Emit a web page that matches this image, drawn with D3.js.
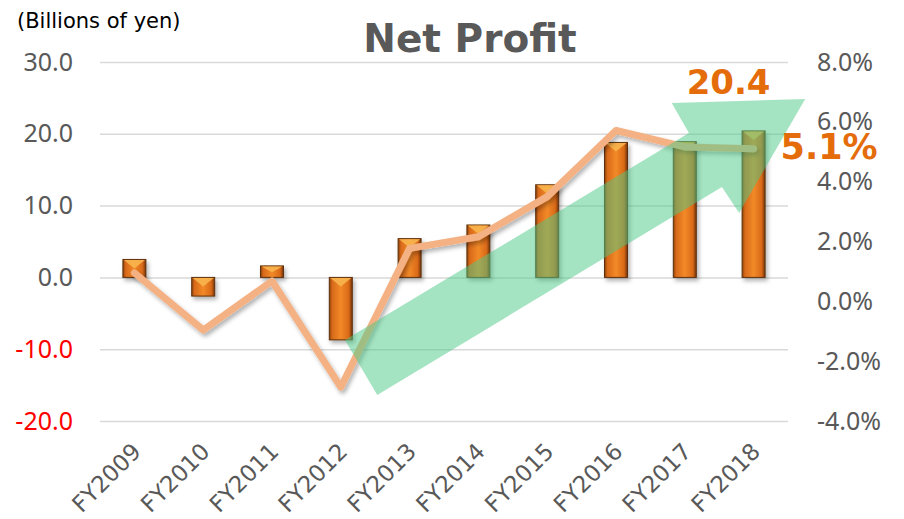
<!DOCTYPE html>
<html>
<head>
<meta charset="utf-8">
<script src="https://cdn.jsdelivr.net/npm/d3@7"></script>
<style>
    body { margin: 0; background: #fff; }
</style>
</head>
<body>
<div id="wrapper"></div>
<script>
const years = ["FY2009", "FY2010", "FY2011", "FY2012", "FY2013", "FY2014", "FY2015", "FY2016", "FY2017", "FY2018"];
const netProfit = [2.5, -2.6, 1.6, -8.7, 5.4, 7.3, 12.9, 18.8, 18.9, 20.4];   // billions of yen
const profitMargin = [0.95, -0.96, 0.68, -2.87, 1.77, 2.16, 3.5, 5.71, 5.16, 5.1]; // %
const profitTicks = [-20, -10, 0, 10, 20, 30];
const marginTicks = [-4, -2, 0, 2, 4, 6, 8];
// trend arrow outline: category position / billions of yen
const arrowPos = [3.56, 8.56, 8.31, 10.25, 9.29, 9.04, 4.03];
const arrowVal = [-8.72, 20.11, 24.29, 24.85, 8.97, 12.59, -16.38];

// plain hyphen instead of d3's unicode minus
const fmt = d => d3.format(".1f")(d).replace("\u2212", "-");

function buildChart() {
    const dimension = {
        width: 904,
        height: 519,
        margin: { top: 62, left: 100, right: 116, bottom: 98 }
    };
    dimension.boundedWidth = dimension.width - dimension.margin.left - dimension.margin.right;
    dimension.boundedHeight = dimension.height - dimension.margin.top - dimension.margin.bottom;

    const svg = d3.select("#wrapper").append("svg")
        .attr("width", dimension.width)
        .attr("height", dimension.height);

    const defs = svg.append("defs");
    const grad = defs.append("linearGradient").attr("id", "barGrad")
        .attr("x1", 0).attr("x2", 1).attr("y1", 0).attr("y2", 0);
    [[0, "#8a4209"], [0.12, "#d8691a"], [0.5, "#f28a28"], [0.85, "#d96918"], [1, "#733508"]]
        .forEach(s => grad.append("stop").attr("offset", s[0]).attr("stop-color", s[1]));

    const shadow = defs.append("filter").attr("id", "shadow")
        .attr("x", "-20%").attr("y", "-20%").attr("width", "140%").attr("height", "140%");
    shadow.append("feDropShadow").attr("dx", 2).attr("dy", 3).attr("stdDeviation", 2)
        .attr("flood-color", "#000").attr("flood-opacity", 0.3);

    const bounded = svg.append("g")
        .attr("transform", `translate(${dimension.margin.left},${dimension.margin.top})`);

    const xScaler = d3.scaleBand()
        .domain(years)
        .range([0, dimension.boundedWidth])
        .paddingInner(0.666)
        .paddingOuter(0.333);
    const xLin = d3.scaleLinear().domain([0, years.length]).range([0, dimension.boundedWidth]);
    const yLeft = d3.scaleLinear().domain([-20, 30]).range([dimension.boundedHeight, 0]);
    const yRight = d3.scaleLinear().domain([-4, 8]).range([dimension.boundedHeight, 0]);

    // gridlines
    const grid = bounded.append("g")
        .call(d3.axisLeft(yLeft).tickValues(profitTicks).tickSize(-dimension.boundedWidth).tickFormat(""));
    grid.select(".domain").remove();
    grid.selectAll("line").attr("stroke", "#d9d9d9").attr("stroke-width", 1.5);

    // left axis labels
    const leftAxis = bounded.append("g")
        .call(d3.axisLeft(yLeft).tickValues(profitTicks).tickSize(0).tickPadding(27).tickFormat(fmt));
    leftAxis.select(".domain").remove();
    leftAxis.selectAll("text")
        .attr("font-family", "Noto Sans").attr("font-size", 25)
        .attr("fill", d => d < 0 ? "#ff0000" : "#595959");

    // right axis labels
    const rightAxis = bounded.append("g")
        .attr("transform", `translate(${dimension.boundedWidth},0)`)
        .call(d3.axisRight(yRight).tickValues(marginTicks).tickSize(0).tickPadding(29).tickFormat(d => fmt(d) + "%"));
    rightAxis.select(".domain").remove();
    rightAxis.selectAll("text")
        .attr("font-family", "Noto Sans").attr("font-size", 25).attr("fill", "#595959");

    // category labels
    const xAxis = bounded.append("g")
        .attr("transform", `translate(0,${dimension.boundedHeight})`)
        .call(d3.axisBottom(xScaler).tickSize(0));
    xAxis.select(".domain").remove();
    xAxis.selectAll("text")
        .attr("font-family", "DejaVu Sans").attr("font-size", 23).attr("fill", "#595959")
        .attr("text-anchor", "end")
        .attr("y", 0).attr("dy", 0)
        .attr("transform", "translate(8,32) rotate(-45)");

    // bars
    const bw = xScaler.bandwidth();
    const bars = bounded.append("g").attr("filter", "url(#shadow)");
    bars.selectAll("rect")
        .data(netProfit)
        .join("rect")
        .attr("x", (d, i) => xScaler(years[i]))
        .attr("y", d => yLeft(Math.max(0, d)))
        .attr("width", bw)
        .attr("height", d => Math.abs(yLeft(d) - yLeft(0)))
        .attr("fill", "url(#barGrad)")
        .attr("stroke", "#5e300a")
        .attr("stroke-width", 1);
    bars.selectAll("polygon")
        .data(netProfit)
        .join("polygon")
        .attr("points", (d, i) => {
            const x0 = xScaler(years[i]);
            const top = yLeft(Math.max(0, d));
            const depth = Math.min(9, Math.abs(yLeft(d) - yLeft(0)) * 0.55);
            return [[x0 + 1, top + 0.5], [x0 + bw - 1, top + 0.5], [x0 + bw / 2, top + depth]].join(" ");
        })
        .attr("fill", "#f8b54e")
        .attr("opacity", 0.9);

    // margin line
    const lineGenerator = d3.line()
        .x((d, i) => xScaler(years[i]) + bw / 2)
        .y(d => yRight(d));
    bounded.append("path")
        .attr("d", lineGenerator(profitMargin))
        .attr("fill", "none")
        .attr("stroke", "#f4b183")
        .attr("stroke-width", 7)
        .attr("stroke-linejoin", "round")
        .attr("stroke-linecap", "round")
        .attr("filter", "url(#shadow)");

    // trend arrow
    bounded.append("polygon")
        .attr("points", arrowPos.map((p, i) => [xLin(p), yLeft(arrowVal[i])]).join(" "))
        .attr("fill", "#4cc985")
        .attr("opacity", 0.5);

    // value callouts
    const last = years.length - 1;
    const lastX = xScaler(years[last]) + bw / 2;
    bounded.append("text")
        .attr("x", lastX - 25)
        .attr("y", yLeft(netProfit[last]) - 37)
        .attr("text-anchor", "middle")
        .attr("font-family", "DejaVu Sans").attr("font-weight", "bold").attr("font-size", 34)
        .attr("fill", "#e46c0a")
        .text(fmt(netProfit[last]));
    bounded.append("text")
        .attr("x", lastX + 27)
        .attr("y", yRight(profitMargin[last]) + 10)
        .attr("font-family", "DejaVu Sans").attr("font-weight", "bold").attr("font-size", 35)
        .attr("fill", "#e46c0a")
        .text(fmt(profitMargin[last]) + "%");

    // titles
    svg.append("text")
        .attr("x", 470).attr("y", 52)
        .attr("text-anchor", "middle")
        .attr("font-family", "DejaVu Sans").attr("font-weight", "bold").attr("font-size", 39)
        .attr("fill", "#595959")
        .text("Net Profit");
    svg.append("text")
        .attr("x", 17).attr("y", 28)
        .attr("font-family", "DejaVu Sans").attr("font-size", 21)
        .attr("fill", "#000")
        .text("(Billions of yen)");
}

buildChart();
</script>
</body>
</html>
